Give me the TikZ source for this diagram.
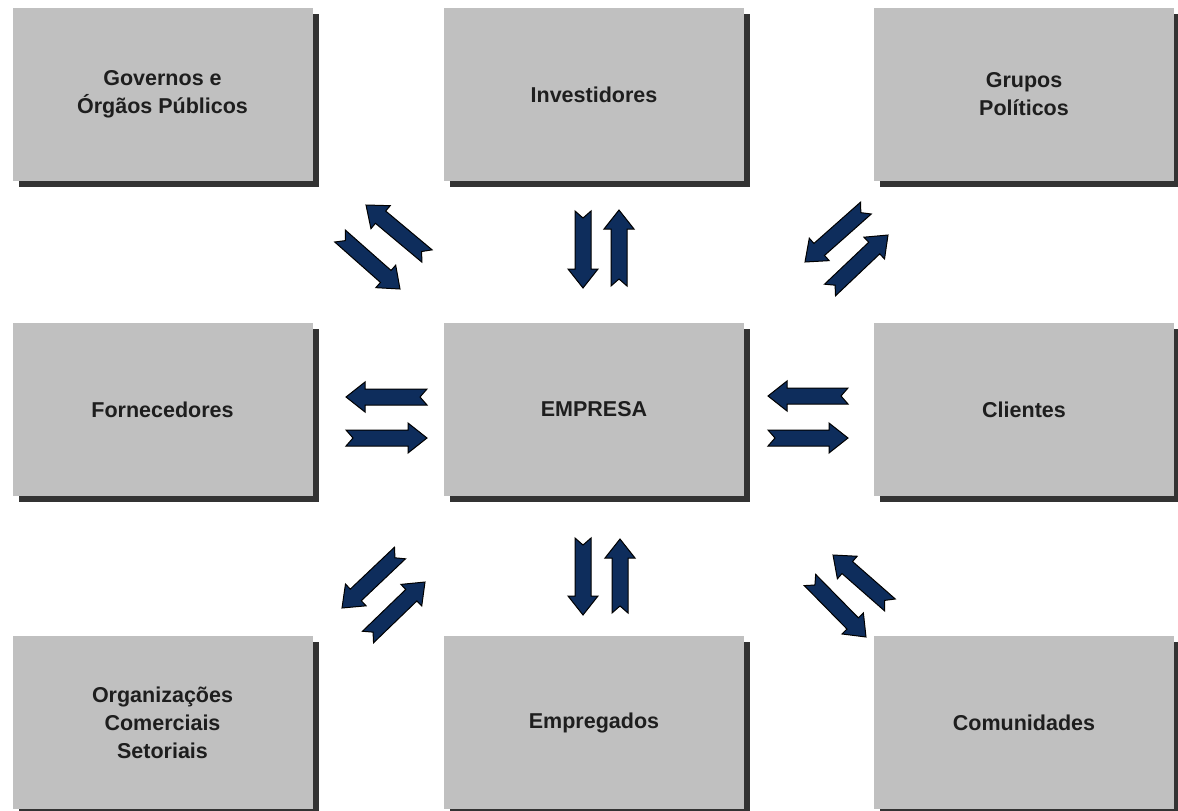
\documentclass[tikz,border=0pt]{standalone}
\usepackage{fontspec}
\setmainfont{Liberation Sans}
\usetikzlibrary{calc,shadows}

\definecolor{cinza}{HTML}{C0C0C0}
\definecolor{sombra}{HTML}{333333}
\definecolor{azul}{HTML}{0E2D5C}
\definecolor{texto}{HTML}{1E1E1E}

% seta larga com cauda entalhada, de #1 para #2
\newcommand{\setabloco}[2]{%
  \coordinate (h) at ($(#2)!19pt!(#1)$);
  \draw[seta] ($(#1)!8pt!90:(#2)$) -- ($(h)!8pt!90:(#2)$)
    -- ($(h)!15pt!90:(#2)$) -- (#2) -- ($(h)!15pt!-90:(#2)$)
    -- ($(h)!8pt!-90:(#2)$) -- ($(#1)!8pt!-90:(#2)$)
    -- ($(#1)!7pt!(#2)$) -- cycle;}

\begin{document}
\begin{tikzpicture}[x=1pt,y=-1pt,
  caixa/.style={fill=cinza,minimum width=300pt,minimum height=173pt,inner sep=0pt,
    align=center,text=texto,font=\bfseries\fontsize{21.5}{28}\selectfont,
    drop shadow={shadow xshift=6pt,shadow yshift=-6pt,fill=sombra,opacity=1}},
  seta/.style={fill=azul,draw=black,line width=1pt}]
  \useasboundingbox (0,0) rectangle (1178,811);

  \node[caixa] (gov) at (162.5,94.5) {Governos e\\Órgãos Públicos};
  \node[caixa] (inv) at (594,94.5) {Investidores};
  \node[caixa] (pol) at (1024,94.5) {Grupos\\Políticos};
  \node[caixa] (forn) at (162.5,409.5) {Fornecedores};
  \node[caixa] (emp) at (594,409.5) {EMPRESA};
  \node[caixa] (cli) at (1024,409.5) {Clientes};
  \node[caixa] (org) at (162.5,722.5) {Organizações\\Comerciais\\Setoriais};
  \node[caixa] (empr) at (594,722.5) {Empregados};
  \node[caixa] (com) at (1024,722.5) {Comunidades};

  % pontas das setas
  \coordinate (gov1) at (340,236);  \coordinate (gov2) at (400,289);
  \coordinate (gov3) at (427,256);  \coordinate (gov4) at (366,205);
  \coordinate (inv1) at (583,211);  \coordinate (inv2) at (583,288);
  \coordinate (inv3) at (619,286);  \coordinate (inv4) at (619,210);
  \coordinate (pol1) at (866,208);  \coordinate (pol2) at (805,262);
  \coordinate (pol3) at (830,290);  \coordinate (pol4) at (888,235);
  \coordinate (forn1) at (427,397); \coordinate (forn2) at (346,397);
  \coordinate (forn3) at (346,438); \coordinate (forn4) at (427,438);
  \coordinate (cli1) at (848,396);  \coordinate (cli2) at (768,396);
  \coordinate (cli3) at (768,438);  \coordinate (cli4) at (848,438);
  \coordinate (org1) at (400,553);  \coordinate (org2) at (342,608);
  \coordinate (org3) at (368,637);  \coordinate (org4) at (425,582);
  \coordinate (empr1) at (583,538); \coordinate (empr2) at (583,615);
  \coordinate (empr3) at (620,613); \coordinate (empr4) at (620,539);
  \coordinate (com1) at (890,605);  \coordinate (com2) at (833,555);
  \coordinate (com3) at (810,580);  \coordinate (com4) at (866,637);

  \foreach \p in {gov,inv,pol,forn,cli,org,empr,com} {
    \setabloco{\p1}{\p2}
    \setabloco{\p3}{\p4}
  }
\end{tikzpicture}
\end{document}
